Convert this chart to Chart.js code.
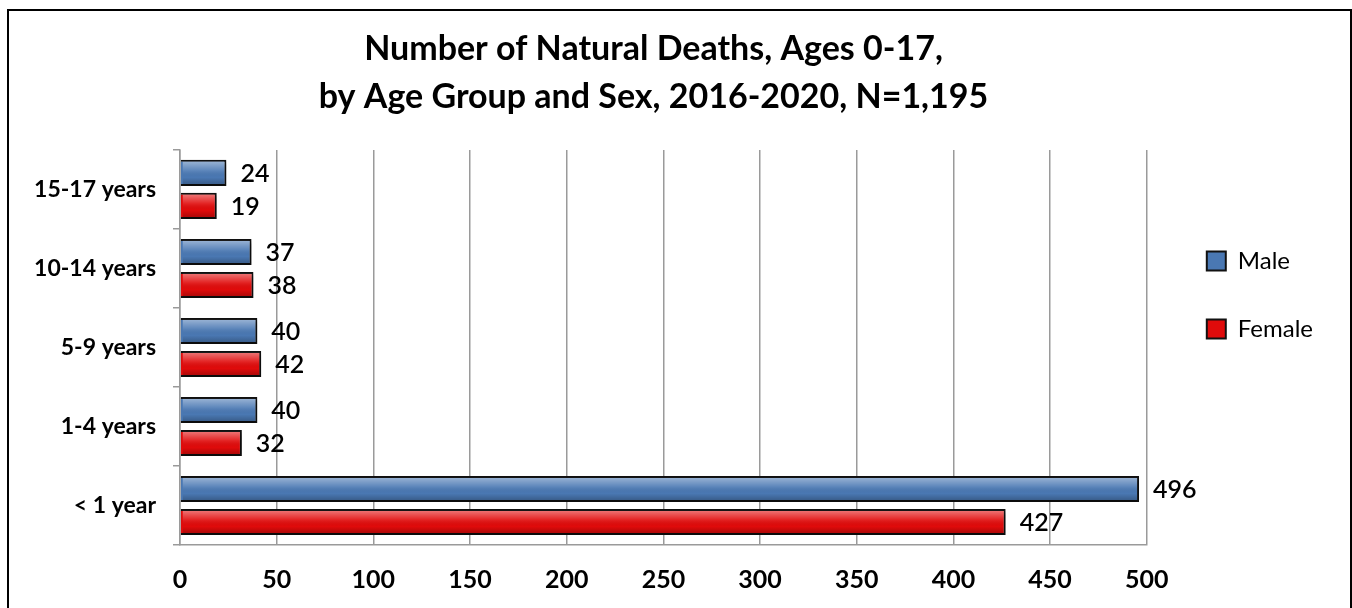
<!DOCTYPE html>
<html>
<head>
<meta charset="utf-8">
<title>Natural Deaths by Age Group and Sex</title>
<script src="https://cdn.jsdelivr.net/npm/chart.js@4.4.1/dist/chart.umd.min.js"></script>
<style>
  html, body { margin: 0; padding: 0; background: #fff; overflow: hidden; }
  #frame {
    position: absolute; left: 7px; top: 9px; width: 1345px; height: 700px;
    border: 2.5px solid #000; border-bottom: none; box-sizing: border-box;
  }
  #deathsChart { position: absolute; left: 0; top: 0; }
</style>
</head>
<body>
<div id="frame"></div>
<canvas id="deathsChart" width="1352" height="615"></canvas>
<script>
const ageGroups = ["15-17 years", "10-14 years", "5-9 years", "1-4 years", "< 1 year"]
const maleDeaths = [24, 37, 40, 40, 496]
const femaleDeaths = [19, 38, 42, 32, 427]
const titleLines = ["Number of Natural Deaths, Ages 0-17,", "by Age Group and Sex, 2016-2020, N=1,195"]

const GRID = "#9a9a9a"
const FONT = "Lato, 'Open Sans', sans-serif"

// nudges the legend so it sits where the original had it
const legendPlacement = {
  id: "legendPlacement",
  afterLayout(chart) {
    const legend = chart.legend
    if (!legend) return
    legend.left += 16
    legend.right += 16
    legend.top = chart.chartArea.top + 55
  }
}

// glossy shading, drop shadow and value labels on the bars
const barDecor = {
  id: "barDecor",
  beforeDatasetsDraw(chart) {
    const ctx = chart.ctx
    ctx.save()
    ctx.shadowColor = "rgba(0, 0, 0, 0.35)"
    ctx.shadowOffsetX = 2
    ctx.shadowOffsetY = 3
    ctx.shadowBlur = 4
  },
  afterDatasetsDraw(chart) {
    const ctx = chart.ctx
    ctx.restore()
    ctx.save()
    chart.data.datasets.forEach((ds, i) => {
      const meta = chart.getDatasetMeta(i)
      meta.data.forEach((bar, j) => {
        const { x, y, base, height } = bar.getProps(["x", "y", "base", "height"], true)
        const top = y - height / 2 + 2
        const h = height - 4
        const grad = ctx.createLinearGradient(0, top, 0, top + h)
        grad.addColorStop(0, "rgba(255,255,255,0.42)")
        grad.addColorStop(0.4, "rgba(255,255,255,0.1)")
        grad.addColorStop(0.7, "rgba(0,0,0,0.0)")
        grad.addColorStop(1, "rgba(0,0,0,0.22)")
        ctx.fillStyle = grad
        ctx.fillRect(base + 2, top, x - base - 4, h)

        ctx.fillStyle = "#000"
        ctx.font = "600 25px " + FONT
        ctx.textAlign = "left"
        ctx.textBaseline = "middle"
        ctx.fillText(String(ds.data[j]), x + 14, y + 1)
      })
    })
    ctx.restore()
  }
}

const ctx = document.getElementById("deathsChart")

new Chart(ctx, {
  type: "bar",
  data: {
    labels: ageGroups,
    datasets: [
      {
        label: "Male",
        data: maleDeaths,
        backgroundColor: "#4a78b3",
        borderColor: "#111",
        borderWidth: 2
      },
      {
        label: "Female",
        data: femaleDeaths,
        backgroundColor: "#e00b0b",
        borderColor: "#111",
        borderWidth: 2
      }
    ]
  },
  plugins: [legendPlacement, barDecor],
  options: {
    indexAxis: "y",
    responsive: false,
    animation: false,
    categoryPercentage: 0.835,
    barPercentage: 0.79,
    layout: {
      padding: { left: 0, right: 45, top: 0, bottom: 0 }
    },
    scales: {
      x: {
        min: 0,
        max: 500,
        ticks: {
          stepSize: 50,
          color: "#000",
          padding: 20,
          font: { family: FONT, size: 25, weight: "bold" }
        },
        grid: { color: GRID, lineWidth: 1.5, drawTicks: false },
        border: { color: GRID, width: 1.5 }
      },
      y: {
        afterFit(scale) {
          scale.width = 180
        },
        ticks: {
          color: "#000",
          padding: 17,
          font: { family: FONT, size: 23, weight: "bold" }
        },
        grid: { color: GRID, lineWidth: 1.5, drawOnChartArea: false, tickLength: 7 },
        border: { color: GRID, width: 1.5 }
      }
    },
    plugins: {
      title: {
        display: true,
        text: titleLines,
        color: "#000",
        font: { family: FONT, size: 34, weight: "bold", lineHeight: 1.41 },
        padding: { top: 25, bottom: 29 }
      },
      legend: {
        position: "right",
        align: "start",
        labels: {
          color: "#000",
          boxWidth: 19,
          boxHeight: 19,
          padding: 44,
          font: { family: FONT, size: 24 }
        }
      },
      tooltip: { enabled: false }
    }
  }
})
</script>
</body>
</html>
